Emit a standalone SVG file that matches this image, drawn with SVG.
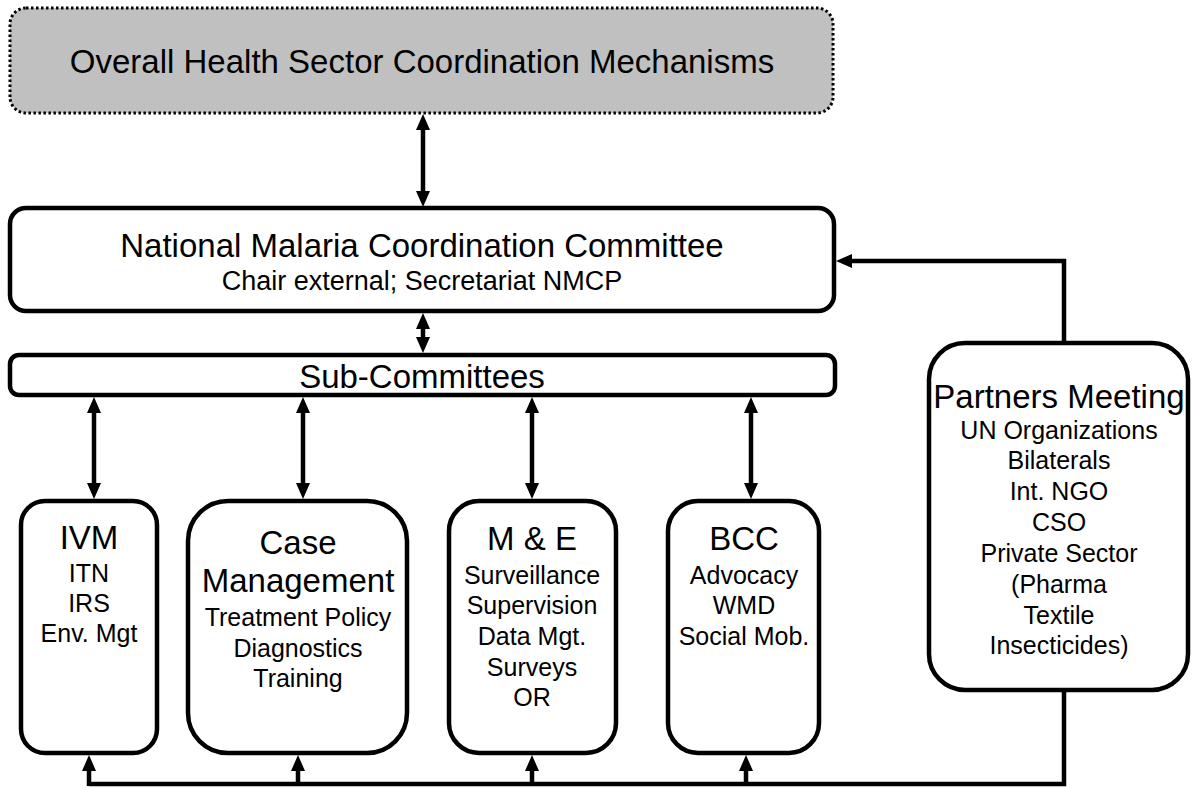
<svg xmlns="http://www.w3.org/2000/svg" width="1199" height="788" viewBox="0 0 1199 788">
<style>
.box{fill:#ffffff;stroke:#000000;stroke-width:4.5}
.top{fill:#c0c0c0;stroke:#000000;stroke-width:3;stroke-dasharray:2.5 2.5}
.t{font-family:"Liberation Sans",Arial,Helvetica,sans-serif;fill:#000000;text-anchor:middle}
.h{font-size:33px}
.s{font-size:25px}
.m{font-size:27px}
.c{fill:none;stroke:#000000;stroke-width:4.5}
</style>
<defs>
<marker id="ah" markerUnits="userSpaceOnUse" markerWidth="16" markerHeight="14" viewBox="0 0 16 14" refX="10" refY="7" orient="auto-start-reverse">
<path d="M0,0 L16,7 L0,14 z" fill="#000000"/>
</marker>
</defs>
<g id="overall">
<rect class="top" x="10" y="8" width="823" height="105" rx="16" ry="16"/>
<text class="t h" x="422" y="73">Overall Health Sector Coordination Mechanisms</text>
</g>
<g id="nmcc">
<rect class="box" x="10" y="208" width="824" height="103" rx="16" ry="16"/>
<text class="t h" x="422" y="257">National Malaria Coordination Committee</text>
<text class="t m" x="422" y="290">Chair external; Secretariat NMCP</text>
</g>
<g id="sub">
<rect class="box" x="10" y="355" width="825" height="40" rx="9" ry="9"/>
<text class="t h" x="422" y="388">Sub-Committees</text>
</g>
<g id="ivm">
<rect class="box" x="21" y="501" width="136" height="252" rx="24" ry="24"/>
<text class="t h" x="89" y="549">IVM</text>
<text class="t s" x="89" y="582">ITN</text>
<text class="t s" x="89" y="612">IRS</text>
<text class="t s" x="89" y="642">Env. Mgt</text>
</g>
<g id="cm">
<rect class="box" x="188" y="501" width="219" height="252" rx="40" ry="40"/>
<text class="t h" x="298" y="554">Case</text>
<text class="t h" x="298" y="592">Management</text>
<text class="t s" x="298" y="626">Treatment Policy</text>
<text class="t s" x="298" y="657">Diagnostics</text>
<text class="t s" x="298" y="687">Training</text>
</g>
<g id="me">
<rect class="box" x="449" y="501" width="167" height="252" rx="30" ry="30"/>
<text class="t h" x="532" y="550">M &amp; E</text>
<text class="t s" x="532" y="584">Surveillance</text>
<text class="t s" x="532" y="614">Supervision</text>
<text class="t s" x="532" y="645">Data Mgt.</text>
<text class="t s" x="532" y="676">Surveys</text>
<text class="t s" x="532" y="706">OR</text>
</g>
<g id="bcc">
<rect class="box" x="668" y="501" width="151" height="252" rx="30" ry="30"/>
<text class="t h" x="744" y="550">BCC</text>
<text class="t s" x="744" y="584">Advocacy</text>
<text class="t s" x="744" y="614">WMD</text>
<text class="t s" x="744" y="645">Social Mob.</text>
</g>
<g id="partners">
<rect class="box" x="929" y="343" width="259" height="347" rx="36" ry="36"/>
<text class="t h" x="1059" y="408">Partners Meeting</text>
<text class="t s" x="1059" y="439">UN Organizations</text>
<text class="t s" x="1059" y="469">Bilaterals</text>
<text class="t s" x="1059" y="500">Int. NGO</text>
<text class="t s" x="1059" y="531">CSO</text>
<text class="t s" x="1059" y="562">Private Sector</text>
<text class="t s" x="1059" y="593">(Pharma</text>
<text class="t s" x="1059" y="624">Textile</text>
<text class="t s" x="1059" y="654">Insecticides)</text>
</g>
<g id="connectors">
<path class="c" d="M423,120 L423,201" marker-start="url(#ah)" marker-end="url(#ah)"/>
<path class="c" d="M423,319 L423,347" marker-start="url(#ah)" marker-end="url(#ah)"/>
<path class="c" d="M94,403 L94,493" marker-start="url(#ah)" marker-end="url(#ah)"/>
<path class="c" d="M303,403 L303,493" marker-start="url(#ah)" marker-end="url(#ah)"/>
<path class="c" d="M532,403 L532,493" marker-start="url(#ah)" marker-end="url(#ah)"/>
<path class="c" d="M751,403 L751,493" marker-start="url(#ah)" marker-end="url(#ah)"/>
<path class="c" d="M1064,343 L1064,261 L842,261" marker-end="url(#ah)"/>
<path class="c" d="M1064,690 L1064,784 L89,784"/>
<path class="c" d="M89,786 L89,761" marker-end="url(#ah)"/>
<path class="c" d="M298,786 L298,761" marker-end="url(#ah)"/>
<path class="c" d="M532,786 L532,761" marker-end="url(#ah)"/>
<path class="c" d="M746,786 L746,761" marker-end="url(#ah)"/>
</g>
</svg>
